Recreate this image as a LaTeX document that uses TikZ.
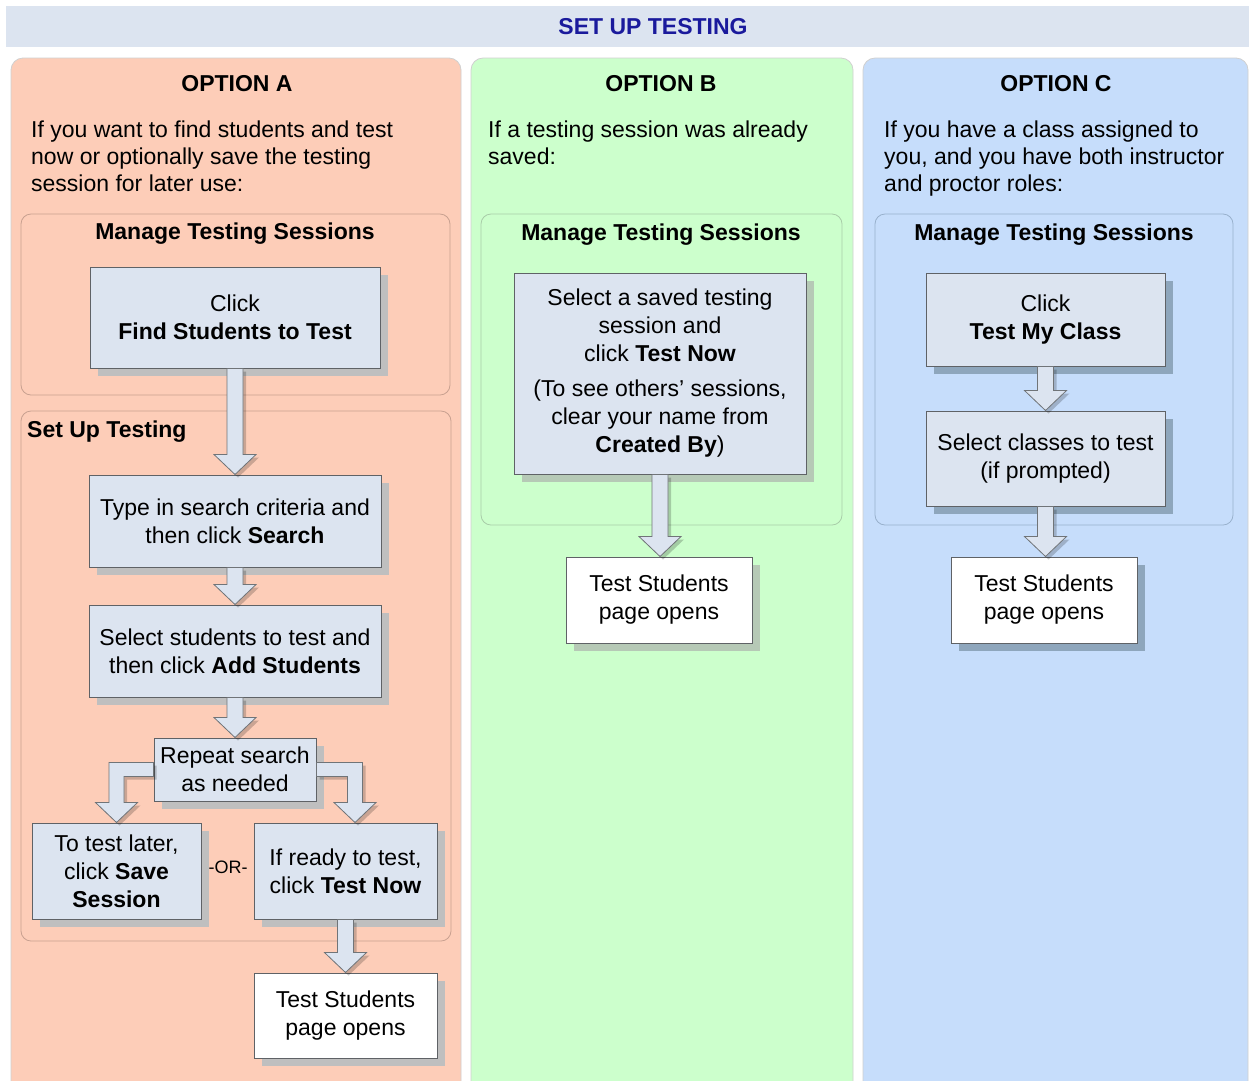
\documentclass[tikz,border=0pt]{standalone}
\usepackage{fontspec}
\setmainfont{Liberation Sans}
\usetikzlibrary{calc,shadows}
\definecolor{hdr}{HTML}{DCE4F0}
\definecolor{hdrtext}{HTML}{1A1A9C}
\definecolor{pA}{HTML}{FDCDB8}
\definecolor{pB}{HTML}{CCFFCC}
\definecolor{pC}{HTML}{C6DDFB}
\definecolor{panelline}{HTML}{D0D0D0}
\definecolor{boxfill}{HTML}{DCE4F0}
\definecolor{boxline}{HTML}{5F6266}
\definecolor{arrline}{HTML}{707478}
\definecolor{shA}{HTML}{BFBFBF}
\definecolor{shB}{HTML}{B6C9B6}
\definecolor{shC}{HTML}{8EA6BC}
\definecolor{grpA}{HTML}{C8A090}
\definecolor{grpB}{HTML}{A8CCA8}
\definecolor{grpC}{HTML}{98B0CC}
\tikzset{
  panel/.style={draw=panelline, line width=0.8pt, rounded corners=12pt},
  grp/.style={draw=#1, line width=0.8pt, rounded corners=10pt},
  txt/.style={font=\fontsize{23}{27}\selectfont, inner sep=0pt},
  ttl/.style={font=\fontsize{23}{27}\selectfont\bfseries, inner sep=0pt},
  boxbase/.style={draw=boxline, line width=1pt, align=center, inner sep=0pt,
    font=\fontsize{23}{28}\selectfont},
  box/.style={boxbase, fill=boxfill,
    general shadow={fill=#1, shadow xshift=8pt, shadow yshift=-8pt}},
  wbox/.style={boxbase, fill=white,
    general shadow={fill=#1, shadow xshift=8pt, shadow yshift=-8pt}},
  arr/.style={draw=arrline, line width=0.8pt, fill=boxfill, line join=miter},
  arrsh/.style={fill=black, fill opacity=0.2},
}
\newcommand\blkdown[2]{%
  \coordinate (s) at (#1.south);
  \coordinate (t) at (#1.south |- #2.north);
  \fill[arrsh, transform canvas={xshift=3pt,yshift=-3pt}]
    ($(s)+(-8,0)$) -- ($(t)+(-8,-20)$) -- ($(t)+(-21,-20)$) -- (t) --
    ($(t)+(21,-20)$) -- ($(t)+(8,-20)$) -- ($(s)+(8,0)$) -- cycle;
  \draw[arr]
    ($(s)+(-8,0)$) -- ($(t)+(-8,-20)$) -- ($(t)+(-21,-20)$) -- (t) --
    ($(t)+(21,-20)$) -- ($(t)+(8,-20)$) -- ($(s)+(8,0)$) -- cycle;
}
\begin{document}
\begin{tikzpicture}[x=1pt,y=-1pt]
\useasboundingbox (0,0) rectangle (1249,1080);
\clip (0,0) rectangle (1249,1080);
\fill[white] (0,0) rectangle (1249,1080);
% header
\fill[hdr] (6,6) rectangle (1249,47);
\node[ttl, text=hdrtext] (title) at (653,27) {SET UP TESTING};
% panels
\filldraw[panel, fill=pA] (11,58) rectangle (461,1100);
\filldraw[panel, fill=pB] (471,58) rectangle (853,1100);
\filldraw[panel, fill=pC] (863,58) rectangle (1248,1100);
% option titles
\node[ttl] (optA) at (237,84) {OPTION A};
\node[ttl] (optB) at (661,84) {OPTION B};
\node[ttl] (optC) at (1056,84) {OPTION C};
% descriptions
\node[txt, anchor=north west, align=left] (descA) at (31,120.5)
  {If you want to find students and test\\now or optionally save the testing\\session for later use:};
\node[txt, anchor=north west, align=left] (descB) at (488,120.5)
  {If a testing session was already\\saved:};
\node[txt, anchor=north west, align=left] (descC) at (884,120.5)
  {If you have a class assigned to\\you, and you have both instructor\\and proctor roles:};
% groups
\draw[grp=grpA] (21,214) rectangle (450,395);
\draw[grp=grpA] (21,411) rectangle (451,941);
\draw[grp=grpB] (481,214) rectangle (842,525);
\draw[grp=grpC] (875,214) rectangle (1233,525);
\node[ttl] (mtsA) at (235,234) {Manage Testing Sessions};
\node[ttl, anchor=west] (sut) at (27,432) {Set Up Testing};
\node[ttl] (mtsB) at (661,235) {Manage Testing Sessions};
\node[ttl] (mtsC) at (1054,235) {Manage Testing Sessions};
% boxes option A
\node[box=shA, minimum width=290, minimum height=101] (A1) at (235,317.5)
  {Click\\\textbf{Find Students to Test}};
\node[box=shA, minimum width=292, minimum height=92] (A2) at (235,521)
  {Type in search criteria and\\then click \textbf{Search}};
\node[box=shA, minimum width=292, minimum height=92] (A3) at (235,651)
  {Select students to test and\\then click \textbf{Add Students}};
\node[box=shA, minimum width=162, minimum height=63] (A4) at (235,769.5)
  {Repeat search\\as needed};
\node[box=shA, minimum width=169, minimum height=96] (A5) at (116.5,871)
  {To test later,\\click \textbf{Save}\\\textbf{Session}};
\node[box=shA, minimum width=183, minimum height=96] (A6) at (345.5,871)
  {If ready to test,\\click \textbf{Test Now}};
\node[wbox=shA, minimum width=183, minimum height=85] (A7) at (345.5,1015.5)
  {Test Students\\page opens};
\node[font=\fontsize{18}{20}\selectfont, inner sep=0pt] (or) at (228,867) {-OR-};
% boxes option B
\node[box=shB, minimum width=292, minimum height=201] (B1) at (660,373.5)
  {Select a saved testing\\session and\\click \textbf{Test Now}\\[7pt](To see others’ sessions,\\clear your name from\\\textbf{Created By})};
\node[wbox=shB, minimum width=186, minimum height=86] (B2) at (659,600)
  {Test Students\\page opens};
% boxes option C
\node[box=shC, minimum width=239, minimum height=93] (C1) at (1045.5,319.5)
  {Click\\\textbf{Test My Class}};
\node[box=shC, minimum width=239, minimum height=95] (C2) at (1045.5,458.5)
  {Select classes to test\\(if prompted)};
\node[wbox=shC, minimum width=186, minimum height=86] (C3) at (1044,600)
  {Test Students\\page opens};
% arrows
\blkdown{A1}{A2}
\blkdown{A2}{A3}
\blkdown{A3}{A4}
\blkdown{A6}{A7}
\blkdown{B1}{B2}
\blkdown{C1}{C2}
\blkdown{C2}{C3}
% bent arrow left
\coordinate (s) at (A4.west);
\coordinate (t) at (A5.north);
\coordinate (c) at (t |- s);
\fill[arrsh, transform canvas={xshift=3pt,yshift=-3pt}]
  ($(s)+(0,-7)$) -- ($(c)+(-7.5,-7)$) -- ($(t)+(-7.5,-20)$) -- ($(t)+(-21,-20)$) -- (t) --
  ($(t)+(21,-20)$) -- ($(t)+(7.5,-20)$) -- ($(c)+(7.5,7)$) -- ($(s)+(0,7)$) -- cycle;
\draw[arr]
  ($(s)+(0,-7)$) -- ($(c)+(-7.5,-7)$) -- ($(t)+(-7.5,-20)$) -- ($(t)+(-21,-20)$) -- (t) --
  ($(t)+(21,-20)$) -- ($(t)+(7.5,-20)$) -- ($(c)+(7.5,7)$) -- ($(s)+(0,7)$) -- cycle;
% bent arrow right
\coordinate (s) at (A4.east);
\coordinate (t) at ($(A6.north)+(9.5,0)$);
\coordinate (c) at (t |- s);
\fill[arrsh, transform canvas={xshift=3pt,yshift=-3pt}]
  ($(s)+(0,-7)$) -- ($(c)+(7.5,-7)$) -- ($(t)+(7.5,-20)$) -- ($(t)+(21,-20)$) -- (t) --
  ($(t)+(-21,-20)$) -- ($(t)+(-7.5,-20)$) -- ($(c)+(-7.5,7)$) -- ($(s)+(0,7)$) -- cycle;
\draw[arr]
  ($(s)+(0,-7)$) -- ($(c)+(7.5,-7)$) -- ($(t)+(7.5,-20)$) -- ($(t)+(21,-20)$) -- (t) --
  ($(t)+(-21,-20)$) -- ($(t)+(-7.5,-20)$) -- ($(c)+(-7.5,7)$) -- ($(s)+(0,7)$) -- cycle;
\end{tikzpicture}
\end{document}
